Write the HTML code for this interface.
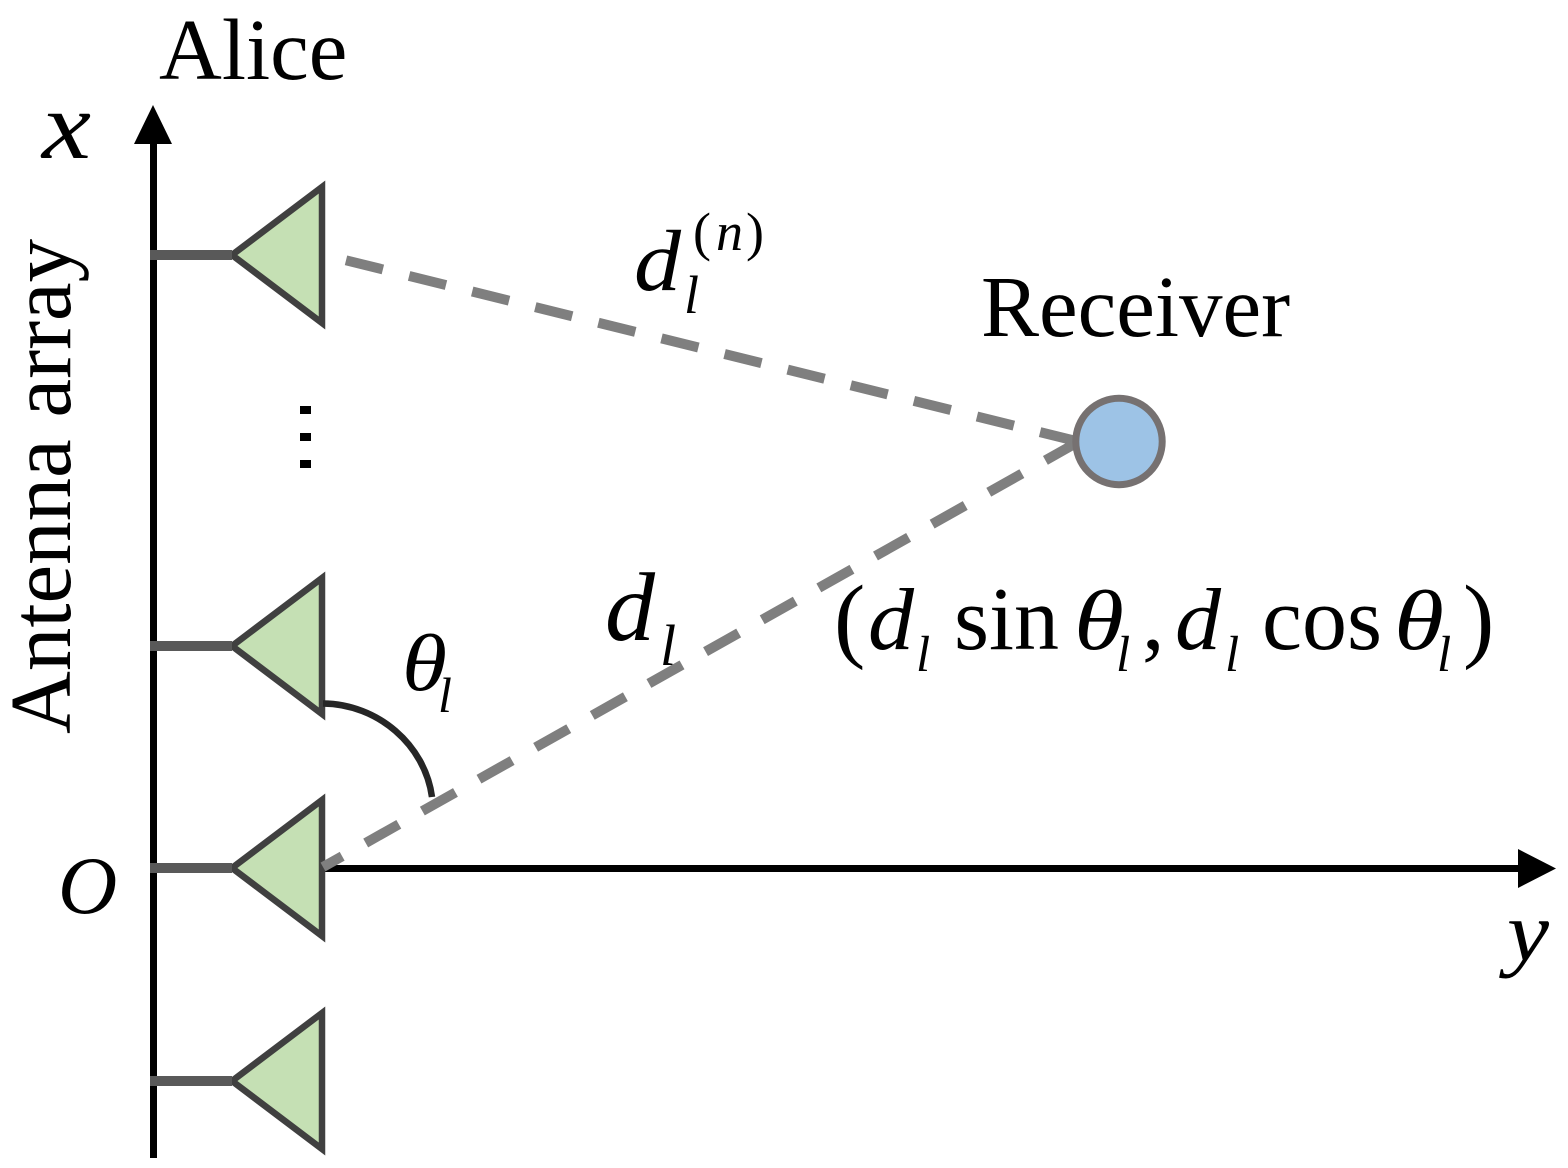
<!DOCTYPE html>
<html>
<head>
<meta charset="utf-8">
<style>
html,body{margin:0;padding:0;background:#fff;}
svg{display:block;}
text{font-family:"Liberation Serif",serif;fill:#000;}
.i{font-style:italic;}
</style>
</head>
<body>
<svg width="1568" height="1168" viewBox="0 0 1568 1168" xmlns="http://www.w3.org/2000/svg">
<rect width="1568" height="1168" fill="#fff"/>
<!-- axes -->
<line x1="153.5" y1="140" x2="153.5" y2="1158" stroke="#000" stroke-width="7"/>
<polygon points="153,105 134,144 172,144" fill="#000"/>
<line x1="320" y1="868.5" x2="1525" y2="868.5" stroke="#000" stroke-width="7"/>
<polygon points="1556,868.5 1518,849 1518,888" fill="#000"/>
<!-- antennas -->
<g fill="#c5e0b4" stroke="#404040" stroke-width="6.5">
<polygon points="232,255 322,187 322,323"/>
<polygon points="232,646 322,578 322,714"/>
<polygon points="232,868 322,800 322,936"/>
<polygon points="232,1081 322,1013 322,1149"/>
</g>
<!-- stems -->
<g stroke="#595959" stroke-width="10">
<line x1="150" y1="255" x2="232" y2="255"/>
<line x1="150" y1="646" x2="232" y2="646"/>
<line x1="150" y1="868" x2="232" y2="868"/>
<line x1="150" y1="1081" x2="232" y2="1081"/>
</g>
<!-- dashed -->
<g stroke="#7f7f7f" stroke-width="10" stroke-dasharray="38 27" fill="none">
<line x1="346" y1="260.3" x2="1076" y2="441"/>
<line x1="323" y1="867" x2="1075" y2="443.7" stroke-dashoffset="16"/>
</g>
<!-- receiver -->
<circle cx="1119" cy="441.5" r="43.2" fill="#9dc3e6" stroke="#767171" stroke-width="7"/>
<!-- angle arc -->
<path d="M323,703.5 C378,704 425,745 432,797" fill="none" stroke="#262626" stroke-width="6.5"/>
<!-- dots -->
<g fill="#000">
<rect x="300" y="406" width="11" height="8"/>
<rect x="300" y="433" width="11" height="8"/>
<rect x="300" y="460" width="11" height="8"/>
</g>
<!-- labels -->
<text x="159" y="79" font-size="87">Alice</text>
<text x="42" y="158" font-size="96" class="i" textLength="49" lengthAdjust="spacingAndGlyphs">x</text>
<text x="1507" y="960" font-size="85" class="i" textLength="42" lengthAdjust="spacingAndGlyphs">y</text>
<text x="58" y="913" font-size="82" class="i">O</text>
<text transform="translate(70,734) rotate(-90)" font-size="87">Antenna array</text>
<text x="981" y="336" font-size="87">Receiver</text>
<text x="634" y="290" font-size="87" class="i" textLength="47" lengthAdjust="spacingAndGlyphs">d</text>
<text x="684" y="313" font-size="54" class="i">l</text>
<text x="693" y="250" font-size="54">(</text>
<text x="716" y="250" font-size="54" class="i">n</text>
<text x="746" y="250" font-size="54">)</text>
<text x="605" y="640" font-size="98" class="i" textLength="50" lengthAdjust="spacingAndGlyphs">d</text>
<text x="660" y="665" font-size="58" class="i">l</text>
<text x="402" y="690" font-size="80" class="i" textLength="45" lengthAdjust="spacingAndGlyphs">θ</text>
<text x="438" y="712" font-size="50" class="i">l</text>
<text x="834" y="650" font-size="94">(</text>
<text x="868" y="649" font-size="88" class="i" textLength="46" lengthAdjust="spacingAndGlyphs">d</text>
<text x="916" y="671" font-size="51" class="i">l</text>
<text x="954" y="649" font-size="90">sin</text>
<text x="1074" y="649" font-size="85" class="i" textLength="50" lengthAdjust="spacingAndGlyphs">θ</text>
<text x="1116" y="671" font-size="51" class="i">l</text>
<text x="1142" y="649" font-size="90">,</text>
<text x="1175" y="649" font-size="88" class="i" textLength="46" lengthAdjust="spacingAndGlyphs">d</text>
<text x="1225" y="671" font-size="51" class="i">l</text>
<text x="1262" y="649" font-size="90">cos</text>
<text x="1394" y="649" font-size="85" class="i" textLength="50" lengthAdjust="spacingAndGlyphs">θ</text>
<text x="1437" y="671" font-size="51" class="i">l</text>
<text x="1463" y="650" font-size="94">)</text>
</svg>
</body>
</html>
